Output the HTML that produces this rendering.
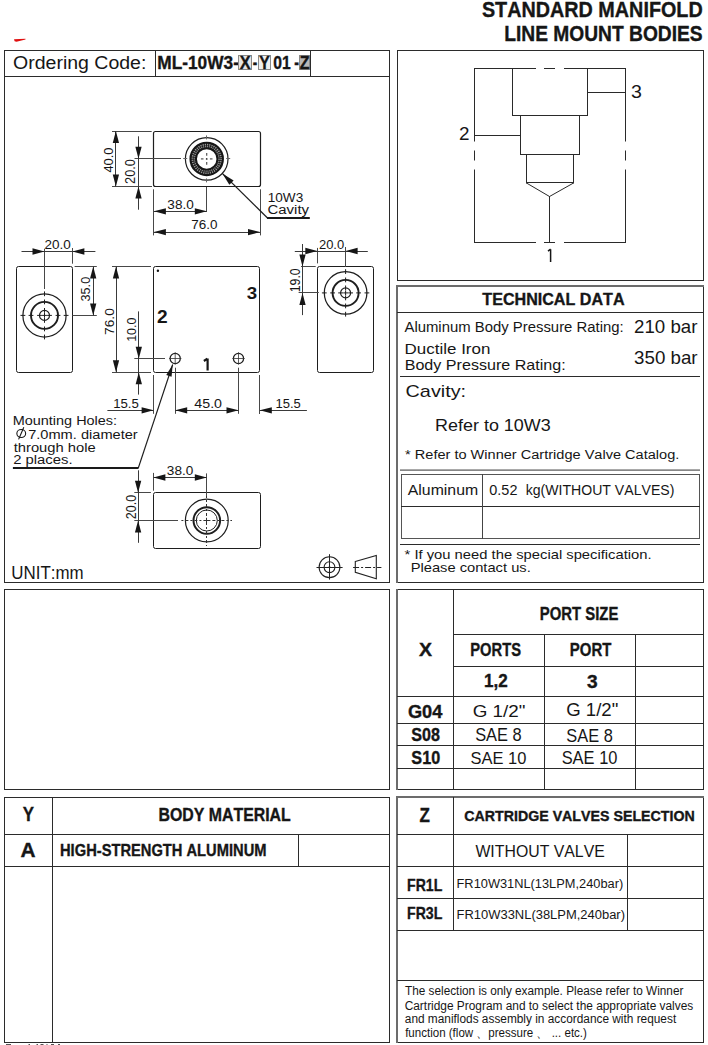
<!DOCTYPE html>
<html><head><meta charset="utf-8"><title>Standard Manifold Line Mount Bodies</title>
<style>
html,body{margin:0;padding:0;background:#fff;width:708px;height:1045px;overflow:hidden;}
svg{display:block;font-family:"Liberation Sans", sans-serif;font-kerning:none;}
</style></head><body>
<svg width="708" height="1045" viewBox="0 0 708 1045" font-family="'Liberation Sans', sans-serif">
<text x="481.93" y="16.5" font-size="22.09" font-weight="bold" fill="#161616" textLength="220.8" lengthAdjust="spacingAndGlyphs" stroke="#161616" stroke-width="0.35">STANDARD MANIFOLD</text>
<text x="504.22" y="40.5" font-size="21.37" font-weight="bold" fill="#161616" textLength="198.43" lengthAdjust="spacingAndGlyphs" stroke="#161616" stroke-width="0.35">LINE MOUNT BODIES</text>
<polygon points="14,39.3 25.5,38.7 25.5,39.6 16.5,41.7 14.6,41.2" fill="#e01010"/>
<rect x="4" y="50" width="386" height="1" fill="#2b2b2b"/>
<rect x="4" y="582" width="386" height="1" fill="#2b2b2b"/>
<rect x="4" y="50" width="1" height="533" fill="#2b2b2b"/>
<rect x="389" y="50" width="1" height="533" fill="#2b2b2b"/>
<rect x="4" y="76" width="386" height="1" fill="#2b2b2b"/>
<rect x="155" y="50" width="1" height="27" fill="#2b2b2b"/>
<rect x="310" y="50" width="1" height="27" fill="#2b2b2b"/>
<rect x="397" y="50" width="307" height="1" fill="#2b2b2b"/>
<rect x="397" y="280" width="307" height="1" fill="#2b2b2b"/>
<rect x="397" y="50" width="1" height="231" fill="#2b2b2b"/>
<rect x="703" y="50" width="1" height="231" fill="#2b2b2b"/>
<rect x="397" y="286" width="307" height="1" fill="#2b2b2b"/>
<rect x="397" y="582" width="307" height="1" fill="#2b2b2b"/>
<rect x="397" y="286" width="1" height="297" fill="#2b2b2b"/>
<rect x="703" y="286" width="1" height="297" fill="#2b2b2b"/>
<rect x="4" y="589" width="386" height="1" fill="#2b2b2b"/>
<rect x="4" y="789" width="386" height="1" fill="#2b2b2b"/>
<rect x="4" y="589" width="1" height="201" fill="#2b2b2b"/>
<rect x="389" y="589" width="1" height="201" fill="#2b2b2b"/>
<rect x="397" y="589" width="307" height="1" fill="#2b2b2b"/>
<rect x="397" y="789" width="307" height="1" fill="#2b2b2b"/>
<rect x="397" y="589" width="1" height="201" fill="#2b2b2b"/>
<rect x="703" y="589" width="1" height="201" fill="#2b2b2b"/>
<rect x="4" y="797" width="386" height="1" fill="#2b2b2b"/>
<rect x="4" y="1042" width="386" height="1" fill="#2b2b2b"/>
<rect x="4" y="797" width="1" height="246" fill="#2b2b2b"/>
<rect x="389" y="797" width="1" height="246" fill="#2b2b2b"/>
<rect x="397" y="797" width="307" height="1" fill="#2b2b2b"/>
<rect x="397" y="1042" width="307" height="1" fill="#2b2b2b"/>
<rect x="397" y="797" width="1" height="246" fill="#2b2b2b"/>
<rect x="703" y="797" width="1" height="246" fill="#2b2b2b"/>
<rect x="396" y="285" width="2" height="298" fill="#6c6c6c"/>
<rect x="396" y="285" width="308" height="2" fill="#6c6c6c"/>
<rect x="396" y="589" width="2" height="201" fill="#6c6c6c"/>
<rect x="396" y="796" width="2" height="247" fill="#6c6c6c"/>
<rect x="396" y="796" width="308" height="2" fill="#6c6c6c"/>
<text x="13.08" y="69.2" font-size="18.02" font-weight="normal" fill="#161616" textLength="133.3" lengthAdjust="spacingAndGlyphs">Ordering Code:</text>
<text x="157.34" y="68.6" font-size="17.73" font-weight="bold" fill="#161616" textLength="81.55" lengthAdjust="spacingAndGlyphs" stroke="#161616" stroke-width="0.35">ML-10W3-</text>
<rect x="238.5" y="55.5" width="13" height="14" fill="#e6e6e6" stroke="#8a8a8a" stroke-width="1"/>
<text x="239.76" y="68.6" font-size="17.73" font-weight="bold" fill="#161616" textLength="10.89" lengthAdjust="spacingAndGlyphs" stroke="#161616" stroke-width="0.35">X</text>
<text x="252.78" y="68.6" font-size="17.73" font-weight="bold" fill="#161616" textLength="4.46" lengthAdjust="spacingAndGlyphs" stroke="#161616" stroke-width="0.35">-</text>
<rect x="258.5" y="55.5" width="12" height="14" fill="#f0f0f0" stroke="#8a8a8a" stroke-width="1"/>
<text x="259.23" y="68.6" font-size="17.73" font-weight="bold" fill="#161616" textLength="10.52" lengthAdjust="spacingAndGlyphs" stroke="#161616" stroke-width="0.35">Y</text>
<text x="273.28" y="68.6" font-size="17.73" font-weight="bold" fill="#161616" textLength="17.46" lengthAdjust="spacingAndGlyphs" stroke="#161616" stroke-width="0.35">01</text>
<text x="294.25" y="68.6" font-size="17.73" font-weight="bold" fill="#161616" textLength="4.72" lengthAdjust="spacingAndGlyphs" stroke="#161616" stroke-width="0.35">-</text>
<rect x="299.5" y="55.5" width="10" height="14" fill="#b8b8b8" stroke="#8a8a8a" stroke-width="1"/>
<text x="299.73" y="68.6" font-size="17.73" font-weight="bold" fill="#161616" textLength="9.73" lengthAdjust="spacingAndGlyphs" stroke="#161616" stroke-width="0.35">Z</text>
<rect x="474" y="68" width="62" height="1" fill="#2a2a2a"/>
<rect x="544" y="68" width="11" height="1" fill="#2a2a2a"/>
<rect x="564" y="68" width="62" height="1" fill="#2a2a2a"/>
<rect x="474" y="242" width="62" height="1" fill="#2a2a2a"/>
<rect x="544" y="242" width="11" height="1" fill="#2a2a2a"/>
<rect x="564" y="242" width="62" height="1" fill="#2a2a2a"/>
<rect x="474" y="68" width="1" height="73.5" fill="#2a2a2a"/>
<rect x="474" y="150.5" width="1" height="10" fill="#2a2a2a"/>
<rect x="474" y="169.5" width="1" height="73.5" fill="#2a2a2a"/>
<rect x="625" y="68" width="1" height="73.5" fill="#2a2a2a"/>
<rect x="625" y="150.5" width="1" height="10" fill="#2a2a2a"/>
<rect x="625" y="169.5" width="1" height="73.5" fill="#2a2a2a"/>
<rect x="512" y="68" width="1" height="48" fill="#2a2a2a"/>
<rect x="587" y="68" width="1" height="48" fill="#2a2a2a"/>
<rect x="512" y="115" width="76" height="1" fill="#2a2a2a"/>
<rect x="520" y="115" width="1" height="40" fill="#2a2a2a"/>
<rect x="579" y="115" width="1" height="40" fill="#2a2a2a"/>
<rect x="520" y="154" width="60" height="1" fill="#2a2a2a"/>
<rect x="526" y="154" width="1" height="29.5" fill="#2a2a2a"/>
<rect x="573" y="154" width="1" height="29.5" fill="#2a2a2a"/>
<rect x="526" y="182" width="48" height="1" fill="#2a2a2a"/>
<line x1="526.5" y1="183" x2="549.5" y2="196.5" stroke="#2a2a2a" stroke-width="1"/>
<line x1="573.5" y1="183" x2="549.5" y2="196.5" stroke="#2a2a2a" stroke-width="1"/>
<rect x="549" y="196" width="1" height="47" fill="#2a2a2a"/>
<rect x="474" y="135" width="47" height="1" fill="#2a2a2a"/>
<rect x="587" y="92" width="39" height="1" fill="#2a2a2a"/>
<text x="458.95" y="140" font-size="18.9" font-weight="normal" fill="#161616" textLength="10.5" lengthAdjust="spacingAndGlyphs">2</text>
<text x="630.95" y="97.6" font-size="17.73" font-weight="normal" fill="#161616" textLength="10.91" lengthAdjust="spacingAndGlyphs">3</text>
<path d="M550.6,249.2 V262 M548,251.2 L550.6,249.2" stroke="#161616" stroke-width="1.5" fill="none"/>
<text x="482.32" y="304.7" font-size="16.42" font-weight="bold" fill="#161616" textLength="142.21" lengthAdjust="spacingAndGlyphs" stroke="#161616" stroke-width="0.35">TECHNICAL DATA</text>
<rect x="397" y="312" width="307" height="1" fill="#2b2b2b"/>
<text x="404.47" y="331.9" font-size="15.26" font-weight="normal" fill="#161616" textLength="219.19" lengthAdjust="spacingAndGlyphs">Aluminum Body Pressure Rating:</text>
<text x="634.06" y="332.7" font-size="18.02" font-weight="normal" fill="#161616" textLength="63.45" lengthAdjust="spacingAndGlyphs">210 bar</text>
<text x="404.61" y="353.8" font-size="14.97" font-weight="normal" fill="#161616" textLength="85.79" lengthAdjust="spacingAndGlyphs">Ductile Iron</text>
<text x="404.68" y="369.5" font-size="14.97" font-weight="normal" fill="#161616" textLength="161.09" lengthAdjust="spacingAndGlyphs">Body Pressure Rating:</text>
<text x="634.09" y="363.8" font-size="17.59" font-weight="normal" fill="#161616" textLength="63.52" lengthAdjust="spacingAndGlyphs">350 bar</text>
<rect x="400" y="376" width="300" height="1" fill="#2b2b2b"/>
<text x="405.59" y="396.7" font-size="17.01" font-weight="normal" fill="#161616" textLength="60.51" lengthAdjust="spacingAndGlyphs">Cavity:</text>
<text x="435.03" y="430.5" font-size="16.86" font-weight="normal" fill="#161616" textLength="115.76" lengthAdjust="spacingAndGlyphs">Refer to 10W3</text>
<text x="405.07" y="458.7" font-size="13.52" font-weight="normal" fill="#161616" textLength="274.26" lengthAdjust="spacingAndGlyphs">* Refer to Winner Cartridge Valve Catalog.</text>
<rect x="400" y="469.5" width="300" height="1.2" fill="#555"/>
<rect x="401" y="474" width="299" height="1" fill="#555"/>
<rect x="401" y="538" width="299" height="1" fill="#555"/>
<rect x="401" y="474" width="1" height="65" fill="#555"/>
<rect x="699" y="474" width="1" height="65" fill="#555"/>
<rect x="401" y="506" width="299" height="1" fill="#2b2b2b"/>
<rect x="482" y="474" width="1" height="65" fill="#444"/>
<text x="407.77" y="495" font-size="14.53" font-weight="normal" fill="#161616" textLength="70.37" lengthAdjust="spacingAndGlyphs">Aluminum</text>
<text x="489.34" y="495.3" font-size="15.41" font-weight="normal" fill="#161616" textLength="28.09" lengthAdjust="spacingAndGlyphs">0.52</text>
<text x="525.65" y="495.3" font-size="15.41" font-weight="normal" fill="#161616" textLength="148.72" lengthAdjust="spacingAndGlyphs">kg(WITHOUT VALVES)</text>
<rect x="400" y="544" width="300" height="1" fill="#2b2b2b"/>
<text x="404.56" y="558.6" font-size="12.79" font-weight="normal" fill="#161616" textLength="247.09" lengthAdjust="spacingAndGlyphs">* If you need the special specification.</text>
<text x="410.69" y="571.5" font-size="12.79" font-weight="normal" fill="#161616" textLength="120.05" lengthAdjust="spacingAndGlyphs">Please contact us.</text>
<text x="11.3" y="578.9" font-size="18.46" font-weight="normal" fill="#161616" textLength="72.32" lengthAdjust="spacingAndGlyphs">UNIT:mm</text>
<circle cx="329.5" cy="567.2" r="10.4" fill="none" stroke="#222" stroke-width="1.1"/>
<circle cx="329.5" cy="567.2" r="5.4" fill="none" stroke="#222" stroke-width="1.1"/>
<line x1="316.5" y1="567.5" x2="342.6" y2="567.5" stroke="#222" stroke-width="1"/>
<line x1="329.5" y1="554.2" x2="329.5" y2="579.6" stroke="#222" stroke-width="1"/>
<circle cx="329.5" cy="567.2" r="1" fill="#222" stroke="none" stroke-width="0"/>
<polygon points="355.3,561.5 376.3,555.4 376.3,578.7 355.3,572.3" fill="none" stroke="#222" stroke-width="1.1"/>
<line x1="353.1" y1="567.5" x2="381.4" y2="567.5" stroke="#222" stroke-width="1" stroke-dasharray="6,2,2,2"/>
<rect x="453" y="589" width="1" height="201" fill="#2b2b2b"/>
<rect x="453" y="634" width="251" height="1" fill="#2b2b2b"/>
<rect x="453" y="666" width="251" height="1" fill="#2b2b2b"/>
<rect x="544" y="634" width="1" height="156" fill="#2b2b2b"/>
<rect x="635" y="634" width="1" height="156" fill="#2b2b2b"/>
<rect x="397" y="696" width="307" height="1" fill="#2b2b2b"/>
<rect x="397" y="723" width="307" height="1" fill="#2b2b2b"/>
<rect x="397" y="745" width="307" height="1" fill="#2b2b2b"/>
<rect x="397" y="768" width="307" height="1" fill="#2b2b2b"/>
<text x="539.8" y="620" font-size="17.73" font-weight="bold" fill="#161616" textLength="78.58" lengthAdjust="spacingAndGlyphs" stroke="#161616" stroke-width="0.35">PORT SIZE</text>
<text x="419.03" y="655.6" font-size="18.46" font-weight="bold" fill="#161616" textLength="13.04" lengthAdjust="spacingAndGlyphs" stroke="#161616" stroke-width="0.35">X</text>
<text x="470.32" y="655.6" font-size="17.73" font-weight="bold" fill="#161616" textLength="50.66" lengthAdjust="spacingAndGlyphs" stroke="#161616" stroke-width="0.35">PORTS</text>
<text x="569.8" y="655.7" font-size="17.73" font-weight="bold" fill="#161616" textLength="41.56" lengthAdjust="spacingAndGlyphs" stroke="#161616" stroke-width="0.35">PORT</text>
<text x="484.12" y="687" font-size="17.73" font-weight="bold" fill="#161616" textLength="23.76" lengthAdjust="spacingAndGlyphs" stroke="#161616" stroke-width="0.35">1,2</text>
<text x="587.06" y="687.5" font-size="17.73" font-weight="bold" fill="#161616" textLength="10.63" lengthAdjust="spacingAndGlyphs" stroke="#161616" stroke-width="0.35">3</text>
<text x="407.95" y="717.8" font-size="17.73" font-weight="bold" fill="#161616" textLength="34.45" lengthAdjust="spacingAndGlyphs" stroke="#161616" stroke-width="0.35">G04</text>
<text x="411.34" y="741" font-size="17.44" font-weight="bold" fill="#161616" textLength="28.66" lengthAdjust="spacingAndGlyphs" stroke="#161616" stroke-width="0.35">S08</text>
<text x="411.33" y="763.7" font-size="17.73" font-weight="bold" fill="#161616" textLength="28.83" lengthAdjust="spacingAndGlyphs" stroke="#161616" stroke-width="0.35">S10</text>
<text x="472.65" y="716.6" font-size="16.86" font-weight="normal" fill="#161616" textLength="52.75" lengthAdjust="spacingAndGlyphs">G 1/2"</text>
<text x="566.16" y="716.2" font-size="17.44" font-weight="normal" fill="#161616" textLength="52.13" lengthAdjust="spacingAndGlyphs">G 1/2"</text>
<text x="475.15" y="741.4" font-size="17.44" font-weight="normal" fill="#161616" textLength="46.56" lengthAdjust="spacingAndGlyphs">SAE 8</text>
<text x="566.36" y="742" font-size="17.73" font-weight="normal" fill="#161616" textLength="46.46" lengthAdjust="spacingAndGlyphs">SAE 8</text>
<text x="470.55" y="763.7" font-size="17.01" font-weight="normal" fill="#161616" textLength="55.79" lengthAdjust="spacingAndGlyphs">SAE 10</text>
<text x="561.65" y="763.7" font-size="17.73" font-weight="normal" fill="#161616" textLength="55.79" lengthAdjust="spacingAndGlyphs">SAE 10</text>
<rect x="52" y="797" width="1" height="246" fill="#2b2b2b"/>
<rect x="4" y="834" width="386" height="1" fill="#2b2b2b"/>
<rect x="4" y="866" width="386" height="1" fill="#2b2b2b"/>
<rect x="298" y="834" width="1" height="33" fill="#2b2b2b"/>
<text x="22.71" y="820.9" font-size="20.64" font-weight="bold" fill="#161616" textLength="11.26" lengthAdjust="spacingAndGlyphs" stroke="#161616" stroke-width="0.35">Y</text>
<text x="20.48" y="856.9" font-size="20.64" font-weight="bold" fill="#161616" textLength="15.07" lengthAdjust="spacingAndGlyphs" stroke="#161616" stroke-width="0.35">A</text>
<text x="158.44" y="821.2" font-size="17.88" font-weight="bold" fill="#161616" textLength="132.35" lengthAdjust="spacingAndGlyphs" stroke="#161616" stroke-width="0.35">BODY MATERIAL</text>
<text x="60.02" y="856.1" font-size="16.28" font-weight="bold" fill="#161616" textLength="206.47" lengthAdjust="spacingAndGlyphs" stroke="#161616" stroke-width="0.35">HIGH-STRENGTH ALUMINUM</text>
<rect x="453" y="797" width="1" height="134" fill="#2b2b2b"/>
<rect x="397" y="834" width="307" height="1" fill="#2b2b2b"/>
<rect x="397" y="866" width="307" height="1" fill="#2b2b2b"/>
<rect x="397" y="898" width="307" height="1" fill="#2b2b2b"/>
<rect x="397" y="930" width="307" height="1" fill="#2b2b2b"/>
<rect x="397" y="980" width="307" height="1" fill="#2b2b2b"/>
<rect x="627" y="834" width="1" height="97" fill="#2b2b2b"/>
<text x="419.49" y="821.7" font-size="20.2" font-weight="bold" fill="#161616" textLength="10.4" lengthAdjust="spacingAndGlyphs" stroke="#161616" stroke-width="0.35">Z</text>
<text x="464.22" y="821.3" font-size="14.83" font-weight="bold" fill="#161616" textLength="230.54" lengthAdjust="spacingAndGlyphs" stroke="#161616" stroke-width="0.35">CARTRIDGE VALVES SELECTION</text>
<text x="475.43" y="856.7" font-size="15.99" font-weight="normal" fill="#161616" textLength="129.35" lengthAdjust="spacingAndGlyphs">WITHOUT VALVE</text>
<text x="407.06" y="890.8" font-size="16.86" font-weight="bold" fill="#161616" textLength="35.28" lengthAdjust="spacingAndGlyphs" stroke="#161616" stroke-width="0.35">FR1L</text>
<text x="407.06" y="919.3" font-size="16.86" font-weight="bold" fill="#161616" textLength="35.28" lengthAdjust="spacingAndGlyphs" stroke="#161616" stroke-width="0.35">FR3L</text>
<text x="456.55" y="888.3" font-size="12.5" font-weight="normal" fill="#161616" textLength="166.65" lengthAdjust="spacingAndGlyphs">FR10W31NL(13LPM,240bar)</text>
<text x="456.54" y="918.8" font-size="12.5" font-weight="normal" fill="#161616" textLength="168.47" lengthAdjust="spacingAndGlyphs">FR10W33NL(38LPM,240bar)</text>
<text x="405.04" y="995.4" font-size="13.52" font-weight="normal" fill="#161616" textLength="278.36" lengthAdjust="spacingAndGlyphs">The selection is only example. Please refer to Winner</text>
<text x="404.7" y="1009.5" font-size="13.52" font-weight="normal" fill="#161616" textLength="288.53" lengthAdjust="spacingAndGlyphs">Cartridge Program and to select the appropriate valves</text>
<text x="404.8" y="1023.3" font-size="13.52" font-weight="normal" fill="#161616" textLength="271.39" lengthAdjust="spacingAndGlyphs">and maniflods assembly in accordance with request</text>
<text x="405.13" y="1037.3" font-size="13.52" font-weight="normal" fill="#161616" textLength="181.81" lengthAdjust="spacingAndGlyphs">function (flow 、pressure 、 ... etc.)</text>
<rect x="153.5" y="131.5" width="107" height="55" rx="2" fill="none" stroke="#1e1e1e" stroke-width="1.2"/>
<line x1="112" y1="131.5" x2="151.7" y2="131.5" stroke="#484848" stroke-width="1"/>
<line x1="112" y1="186.5" x2="152" y2="186.5" stroke="#484848" stroke-width="1"/>
<line x1="134.5" y1="158.5" x2="181" y2="158.5" stroke="#484848" stroke-width="1"/>
<line x1="115.5" y1="131" x2="115.5" y2="186.6" stroke="#3a3a3a" stroke-width="1"/>
<polygon points="115.9,131 119.05,143 112.75,143" fill="#161616"/>
<polygon points="115.9,186.6 112.75,174.6 119.05,174.6" fill="#161616"/>
<text x="0" y="0" transform="translate(112.6,172.6) rotate(-90)" font-size="13.52" font-weight="normal" fill="#161616" textLength="25.1" lengthAdjust="spacingAndGlyphs">40.0</text>
<line x1="138.5" y1="136.3" x2="138.5" y2="209.7" stroke="#3a3a3a" stroke-width="1"/>
<polygon points="138.5,158.8 135.35,146.8 141.65,146.8" fill="#161616"/>
<polygon points="138.5,186.6 141.65,198.6 135.35,198.6" fill="#161616"/>
<text x="0" y="0" transform="translate(135.2,183.94) rotate(-90)" font-size="13.95" font-weight="normal" fill="#161616" textLength="24.84" lengthAdjust="spacingAndGlyphs">20.0</text>
<line x1="153.5" y1="189.3" x2="153.5" y2="235.4" stroke="#484848" stroke-width="1"/>
<line x1="206.5" y1="187" x2="206.5" y2="212" stroke="#484848" stroke-width="1"/>
<line x1="260.5" y1="189.3" x2="260.5" y2="235.4" stroke="#484848" stroke-width="1"/>
<line x1="153.9" y1="211.5" x2="206.8" y2="211.5" stroke="#3a3a3a" stroke-width="1"/>
<polygon points="153.9,211.3 165.9,208.15 165.9,214.45" fill="#161616"/>
<polygon points="206.8,211.3 194.8,214.45 194.8,208.15" fill="#161616"/>
<text x="167.38" y="208.7" font-size="13.37" font-weight="normal" fill="#161616" textLength="26.45" lengthAdjust="spacingAndGlyphs">38.0</text>
<line x1="153.9" y1="232.5" x2="260" y2="232.5" stroke="#3a3a3a" stroke-width="1"/>
<polygon points="153.9,232.1 165.9,228.95 165.9,235.25" fill="#161616"/>
<polygon points="260,232.1 248,235.25 248,228.95" fill="#161616"/>
<text x="191.31" y="228.8" font-size="13.37" font-weight="normal" fill="#161616" textLength="26.22" lengthAdjust="spacingAndGlyphs">76.0</text>
<circle cx="206.7" cy="158.9" r="21.3" fill="none" stroke="#1e1e1e" stroke-width="1.2"/>
<circle cx="206.7" cy="158.9" r="13.5" fill="none" stroke="#161616" stroke-width="7.5"/>
<circle cx="206.7" cy="158.9" r="13.4" fill="none" stroke="#999999" stroke-width="3.4" stroke-dasharray="1.2,0.9"/>
<circle cx="206.7" cy="158.9" r="13.4" fill="none" stroke="#161616" stroke-width="0.6"/>
<line x1="200.9" y1="158.9" x2="203.5" y2="158.9" stroke="#555" stroke-width="1.2"/>
<line x1="209.9" y1="158.9" x2="212.5" y2="158.9" stroke="#555" stroke-width="1.2"/>
<line x1="206.7" y1="153.1" x2="206.7" y2="155.7" stroke="#555" stroke-width="1.2"/>
<line x1="206.7" y1="162.1" x2="206.7" y2="164.7" stroke="#555" stroke-width="1.2"/>
<circle cx="206.7" cy="158.9" r="0.9" fill="#333" stroke="none" stroke-width="0"/>
<line x1="206.5" y1="135.4" x2="206.5" y2="139.4" stroke="#666" stroke-width="1"/>
<line x1="206.5" y1="178.4" x2="206.5" y2="182.4" stroke="#666" stroke-width="1"/>
<line x1="183.2" y1="158.5" x2="187.2" y2="158.5" stroke="#666" stroke-width="1"/>
<line x1="226.2" y1="158.5" x2="230.2" y2="158.5" stroke="#666" stroke-width="1"/>
<line x1="222.3" y1="173.4" x2="267.5" y2="218" stroke="#1e1e1e" stroke-width="1.25"/>
<line x1="267" y1="218" x2="309.8" y2="218" stroke="#1a1a1a" stroke-width="1.8"/>
<polygon points="222.3,173.4 233.61,180.47 229.37,184.71" fill="#161616"/>
<text x="267.77" y="201.6" font-size="13.08" font-weight="normal" fill="#161616" textLength="35.43" lengthAdjust="spacingAndGlyphs">10W3</text>
<text x="267.54" y="214.3" font-size="13.08" font-weight="normal" fill="#161616" textLength="41.49" lengthAdjust="spacingAndGlyphs">Cavity</text>
<rect x="153.5" y="266.5" width="106" height="106" rx="2" fill="none" stroke="#1e1e1e" stroke-width="1"/>
<circle cx="157.9" cy="270.8" r="1.2" fill="#111" stroke="none" stroke-width="0"/>
<text x="246.67" y="299.2" font-size="15.99" font-weight="700" fill="#161616" textLength="10.41" lengthAdjust="spacingAndGlyphs">3</text>
<text x="157.14" y="322.6" font-size="17.73" font-weight="700" fill="#161616" textLength="10.63" lengthAdjust="spacingAndGlyphs">2</text>
<path d="M207.6,358.4 V370.4 M203.9,361 L207.4,358.6" stroke="#161616" stroke-width="2.2" fill="none"/>
<circle cx="175.2" cy="358.5" r="5.1" fill="none" stroke="#1e1e1e" stroke-width="1.25"/>
<line x1="169" y1="358.5" x2="181.4" y2="358.5" stroke="#333" stroke-width="0.8"/>
<line x1="175.2" y1="352.3" x2="175.2" y2="364.6" stroke="#333" stroke-width="0.8"/>
<line x1="175.5" y1="367.7" x2="175.5" y2="413.8" stroke="#484848" stroke-width="1"/>
<circle cx="238.5" cy="358.5" r="5.1" fill="none" stroke="#1e1e1e" stroke-width="1.25"/>
<line x1="232.3" y1="358.5" x2="244.7" y2="358.5" stroke="#333" stroke-width="0.8"/>
<line x1="238.5" y1="352.3" x2="238.5" y2="364.6" stroke="#333" stroke-width="0.8"/>
<line x1="238.5" y1="367.7" x2="238.5" y2="413.8" stroke="#484848" stroke-width="1"/>
<line x1="134.3" y1="358.5" x2="165" y2="358.5" stroke="#484848" stroke-width="1"/>
<line x1="112" y1="266.5" x2="151" y2="266.5" stroke="#484848" stroke-width="1"/>
<line x1="112" y1="372.5" x2="151" y2="372.5" stroke="#484848" stroke-width="1"/>
<line x1="116.5" y1="266.5" x2="116.5" y2="372.3" stroke="#3a3a3a" stroke-width="1"/>
<polygon points="116,266.5 119.15,278.5 112.85,278.5" fill="#161616"/>
<polygon points="116,372.3 112.85,360.3 119.15,360.3" fill="#161616"/>
<text x="0" y="0" transform="translate(113.8,334.9) rotate(-90)" font-size="13.37" font-weight="normal" fill="#161616" textLength="26.74" lengthAdjust="spacingAndGlyphs">76.0</text>
<line x1="138.5" y1="311.4" x2="138.5" y2="394.6" stroke="#3a3a3a" stroke-width="1"/>
<polygon points="138.8,358.8 135.65,346.8 141.95,346.8" fill="#161616"/>
<polygon points="138.8,372.3 141.95,384.3 135.65,384.3" fill="#161616"/>
<text x="0" y="0" transform="translate(135.6,341.85) rotate(-90)" font-size="13.66" font-weight="normal" fill="#161616" textLength="24.34" lengthAdjust="spacingAndGlyphs">10.0</text>
<line x1="153.5" y1="375" x2="153.5" y2="413.8" stroke="#484848" stroke-width="1"/>
<line x1="259.5" y1="375" x2="259.5" y2="414" stroke="#484848" stroke-width="1"/>
<line x1="107.4" y1="410.5" x2="153.6" y2="410.5" stroke="#3a3a3a" stroke-width="1"/>
<polygon points="153.6,410.3 141.6,413.45 141.6,407.15" fill="#161616"/>
<line x1="175.2" y1="410.5" x2="238.5" y2="410.5" stroke="#3a3a3a" stroke-width="1"/>
<polygon points="175.2,410.3 187.2,407.15 187.2,413.45" fill="#161616"/>
<polygon points="238.5,410.3 226.5,413.45 226.5,407.15" fill="#161616"/>
<line x1="259.8" y1="410.5" x2="306.9" y2="410.5" stroke="#3a3a3a" stroke-width="1"/>
<polygon points="259.8,410.3 271.8,407.15 271.8,413.45" fill="#161616"/>
<text x="113.2" y="408.2" font-size="13.37" font-weight="normal" fill="#161616" textLength="25.66" lengthAdjust="spacingAndGlyphs">15.5</text>
<text x="194.37" y="408.4" font-size="13.37" font-weight="normal" fill="#161616" textLength="27.68" lengthAdjust="spacingAndGlyphs">45.0</text>
<text x="275.41" y="407.9" font-size="13.37" font-weight="normal" fill="#161616" textLength="25.34" lengthAdjust="spacingAndGlyphs">15.5</text>
<rect x="16.5" y="266.5" width="56" height="106" rx="2" fill="none" stroke="#1e1e1e" stroke-width="1"/>
<circle cx="44.5" cy="315.4" r="21.6" fill="none" stroke="#1e1e1e" stroke-width="1.25"/>
<circle cx="44.5" cy="315.4" r="13.5" fill="none" stroke="#1e1e1e" stroke-width="1.9"/>
<circle cx="44.5" cy="315.4" r="5" fill="none" stroke="#1e1e1e" stroke-width="1.2"/>
<line x1="20.5" y1="315.4" x2="25.3" y2="315.4" stroke="#1e1e1e" stroke-width="1"/>
<line x1="63.7" y1="315.4" x2="68.5" y2="315.4" stroke="#1e1e1e" stroke-width="1"/>
<line x1="44.5" y1="291.4" x2="44.5" y2="296.2" stroke="#1e1e1e" stroke-width="1"/>
<line x1="44.5" y1="334.6" x2="44.5" y2="339.4" stroke="#1e1e1e" stroke-width="1"/>
<line x1="28.6" y1="315.4" x2="33.4" y2="315.4" stroke="#1e1e1e" stroke-width="1"/>
<line x1="55.6" y1="315.4" x2="60.4" y2="315.4" stroke="#1e1e1e" stroke-width="1"/>
<line x1="44.5" y1="299.5" x2="44.5" y2="304.3" stroke="#1e1e1e" stroke-width="1"/>
<line x1="44.5" y1="326.5" x2="44.5" y2="331.3" stroke="#1e1e1e" stroke-width="1"/>
<line x1="37.1" y1="315.4" x2="41.9" y2="315.4" stroke="#1e1e1e" stroke-width="1"/>
<line x1="47.1" y1="315.4" x2="51.9" y2="315.4" stroke="#1e1e1e" stroke-width="1"/>
<line x1="44.5" y1="308" x2="44.5" y2="312.8" stroke="#1e1e1e" stroke-width="1"/>
<line x1="44.5" y1="318" x2="44.5" y2="322.8" stroke="#1e1e1e" stroke-width="1"/>
<line x1="42.1" y1="315.4" x2="46.9" y2="315.4" stroke="#1e1e1e" stroke-width="1"/>
<line x1="44.5" y1="313" x2="44.5" y2="317.8" stroke="#1e1e1e" stroke-width="1"/>
<line x1="44.5" y1="248.7" x2="44.5" y2="289" stroke="#484848" stroke-width="1"/>
<line x1="72.4" y1="315.5" x2="96.8" y2="315.5" stroke="#484848" stroke-width="1"/>
<line x1="74.6" y1="266.5" x2="96.8" y2="266.5" stroke="#484848" stroke-width="1"/>
<line x1="72.5" y1="248" x2="72.5" y2="263.7" stroke="#484848" stroke-width="1"/>
<line x1="21.5" y1="251.5" x2="95.4" y2="251.5" stroke="#3a3a3a" stroke-width="1"/>
<polygon points="44.5,251.5 32.5,254.65 32.5,248.35" fill="#161616"/>
<polygon points="72.4,251.5 84.4,248.35 84.4,254.65" fill="#161616"/>
<text x="44.52" y="248.7" font-size="13.37" font-weight="normal" fill="#161616" textLength="26.31" lengthAdjust="spacingAndGlyphs">20.0</text>
<line x1="93.5" y1="266.6" x2="93.5" y2="315.4" stroke="#3a3a3a" stroke-width="1"/>
<polygon points="93.2,266.6 96.35,278.6 90.05,278.6" fill="#161616"/>
<polygon points="93.2,315.4 90.05,303.4 96.35,303.4" fill="#161616"/>
<text x="0" y="0" transform="translate(89.6,301.48) rotate(-90)" font-size="13.66" font-weight="normal" fill="#161616" textLength="24.68" lengthAdjust="spacingAndGlyphs">35.0</text>
<rect x="317.5" y="266.5" width="56" height="106" rx="2" fill="none" stroke="#1e1e1e" stroke-width="1"/>
<circle cx="345.6" cy="292.9" r="21.3" fill="none" stroke="#1e1e1e" stroke-width="1.25"/>
<circle cx="345.6" cy="292.9" r="13" fill="none" stroke="#1e1e1e" stroke-width="1.9"/>
<circle cx="345.6" cy="292.9" r="5" fill="none" stroke="#1e1e1e" stroke-width="1.2"/>
<line x1="321.9" y1="292.9" x2="326.7" y2="292.9" stroke="#1e1e1e" stroke-width="1"/>
<line x1="364.5" y1="292.9" x2="369.3" y2="292.9" stroke="#1e1e1e" stroke-width="1"/>
<line x1="345.6" y1="269.2" x2="345.6" y2="274" stroke="#1e1e1e" stroke-width="1"/>
<line x1="345.6" y1="311.8" x2="345.6" y2="316.6" stroke="#1e1e1e" stroke-width="1"/>
<line x1="330.2" y1="292.9" x2="335" y2="292.9" stroke="#1e1e1e" stroke-width="1"/>
<line x1="356.2" y1="292.9" x2="361" y2="292.9" stroke="#1e1e1e" stroke-width="1"/>
<line x1="345.6" y1="277.5" x2="345.6" y2="282.3" stroke="#1e1e1e" stroke-width="1"/>
<line x1="345.6" y1="303.5" x2="345.6" y2="308.3" stroke="#1e1e1e" stroke-width="1"/>
<line x1="338.2" y1="292.9" x2="343" y2="292.9" stroke="#1e1e1e" stroke-width="1"/>
<line x1="348.2" y1="292.9" x2="353" y2="292.9" stroke="#1e1e1e" stroke-width="1"/>
<line x1="345.6" y1="285.5" x2="345.6" y2="290.3" stroke="#1e1e1e" stroke-width="1"/>
<line x1="345.6" y1="295.5" x2="345.6" y2="300.3" stroke="#1e1e1e" stroke-width="1"/>
<line x1="343.2" y1="292.9" x2="348" y2="292.9" stroke="#1e1e1e" stroke-width="1"/>
<line x1="345.6" y1="290.5" x2="345.6" y2="295.3" stroke="#1e1e1e" stroke-width="1"/>
<line x1="345.5" y1="247" x2="345.5" y2="267" stroke="#484848" stroke-width="1"/>
<line x1="317.5" y1="247.9" x2="317.5" y2="263.4" stroke="#484848" stroke-width="1"/>
<line x1="301" y1="266.5" x2="315.7" y2="266.5" stroke="#484848" stroke-width="1"/>
<line x1="298.6" y1="292.5" x2="318.8" y2="292.5" stroke="#484848" stroke-width="1"/>
<line x1="294.8" y1="251.5" x2="367.8" y2="251.5" stroke="#3a3a3a" stroke-width="1"/>
<polygon points="317.3,251 305.3,254.15 305.3,247.85" fill="#161616"/>
<polygon points="345.6,251 357.6,247.85 357.6,254.15" fill="#161616"/>
<text x="318.95" y="248.6" font-size="13.37" font-weight="normal" fill="#161616" textLength="25.26" lengthAdjust="spacingAndGlyphs">20.0</text>
<line x1="302.5" y1="244" x2="302.5" y2="315.1" stroke="#3a3a3a" stroke-width="1"/>
<polygon points="302.5,266.5 299.35,254.5 305.65,254.5" fill="#161616"/>
<polygon points="302.5,292.9 305.65,304.9 299.35,304.9" fill="#161616"/>
<text x="0" y="0" transform="translate(299.9,292.34) rotate(-90)" font-size="14.53" font-weight="normal" fill="#161616" textLength="24.02" lengthAdjust="spacingAndGlyphs">19.0</text>
<rect x="153.5" y="492.5" width="107" height="56" rx="2" fill="none" stroke="#1e1e1e" stroke-width="1"/>
<circle cx="206.8" cy="520.5" r="21.4" fill="none" stroke="#1e1e1e" stroke-width="1.2"/>
<circle cx="206.8" cy="520.5" r="13.3" fill="none" stroke="#1e1e1e" stroke-width="2"/>
<circle cx="206.8" cy="520.5" r="10.5" fill="none" stroke="#1e1e1e" stroke-width="1"/>
<line x1="204.1" y1="520.5" x2="209.5" y2="520.5" stroke="#333" stroke-width="1"/>
<line x1="206.5" y1="517.8" x2="206.5" y2="523.2" stroke="#333" stroke-width="1"/>
<line x1="181.4" y1="520.5" x2="232" y2="520.5" stroke="#333" stroke-width="1" stroke-dasharray="2,2,3,2"/>
<line x1="206.5" y1="495" x2="206.5" y2="546" stroke="#333" stroke-width="1" stroke-dasharray="3,2,2,2"/>
<line x1="153.5" y1="472.9" x2="153.5" y2="490.7" stroke="#484848" stroke-width="1"/>
<line x1="206.5" y1="473.4" x2="206.5" y2="496" stroke="#484848" stroke-width="1"/>
<line x1="134.3" y1="492.5" x2="150.9" y2="492.5" stroke="#484848" stroke-width="1"/>
<line x1="134.3" y1="520.5" x2="178" y2="520.5" stroke="#484848" stroke-width="1"/>
<line x1="153.4" y1="477.5" x2="206.8" y2="477.5" stroke="#3a3a3a" stroke-width="1"/>
<polygon points="153.4,477.5 165.4,474.35 165.4,480.65" fill="#161616"/>
<polygon points="206.8,477.5 194.8,480.65 194.8,474.35" fill="#161616"/>
<text x="166.88" y="474.7" font-size="13.37" font-weight="normal" fill="#161616" textLength="26.45" lengthAdjust="spacingAndGlyphs">38.0</text>
<line x1="138.5" y1="470.3" x2="138.5" y2="542.8" stroke="#3a3a3a" stroke-width="1"/>
<polygon points="138.1,492.7 134.95,480.7 141.25,480.7" fill="#161616"/>
<polygon points="138.1,520.5 141.25,532.5 134.95,532.5" fill="#161616"/>
<text x="0" y="0" transform="translate(135.6,519.23) rotate(-90)" font-size="14.24" font-weight="normal" fill="#161616" textLength="24.42" lengthAdjust="spacingAndGlyphs">20.0</text>
<text x="12.71" y="425.4" font-size="13.23" font-weight="normal" fill="#161616" textLength="104.4" lengthAdjust="spacingAndGlyphs">Mounting Holes:</text>
<ellipse cx="21.25" cy="433.5" rx="4.4" ry="4.0" fill="none" stroke="#161616" stroke-width="1.1"/>
<line x1="18.6" y1="439.4" x2="23.8" y2="427.3" stroke="#161616" stroke-width="1.1"/>
<text x="28.15" y="438.7" font-size="13.23" font-weight="normal" fill="#161616" textLength="109.59" lengthAdjust="spacingAndGlyphs">7.0mm. diameter</text>
<text x="13.68" y="451.5" font-size="13.23" font-weight="normal" fill="#161616" textLength="81.98" lengthAdjust="spacingAndGlyphs">through hole</text>
<text x="13.15" y="464.4" font-size="13.23" font-weight="normal" fill="#161616" textLength="59.51" lengthAdjust="spacingAndGlyphs">2 places.</text>
<line x1="12.9" y1="468" x2="138.5" y2="468" stroke="#1a1a1a" stroke-width="2"/>
<line x1="138.3" y1="468" x2="172.7" y2="364.5" stroke="#1e1e1e" stroke-width="1.15"/>
<polygon points="172.7,364.5 171.57,376.77 166.26,375" fill="#161616"/>
<rect x="6" y="1044" width="5" height="1" fill="#555"/>
<rect x="28.5" y="1044" width="1.5" height="1" fill="#555"/>
<rect x="36.5" y="1044" width="1.5" height="1" fill="#555"/>
<rect x="40.5" y="1044" width="3.0" height="1" fill="#555"/>
<rect x="46.5" y="1044" width="1.0" height="1" fill="#555"/>
<rect x="51" y="1044" width="3" height="1" fill="#555"/>
<rect x="58" y="1044" width="2" height="1" fill="#555"/>
</svg>
</body></html>
